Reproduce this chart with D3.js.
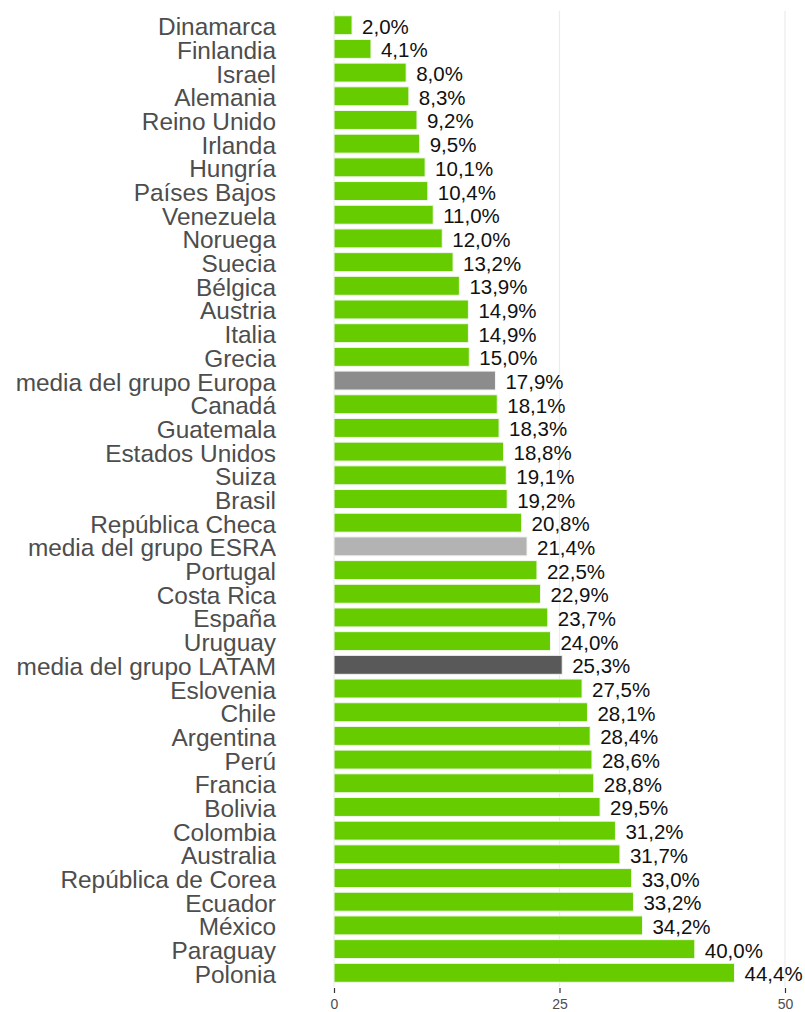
<!DOCTYPE html>
<html><head><meta charset="utf-8">
<script src="https://cdn.jsdelivr.net/npm/d3@7"></script>
<style>body{margin:0;background:#fff}svg{display:block}text{font-family:Arial,"Liberation Sans",sans-serif}</style>
</head><body>
<script>
const categories = ["Dinamarca","Finlandia","Israel","Alemania","Reino Unido","Irlanda","Hungría","Países Bajos","Venezuela","Noruega","Suecia","Bélgica","Austria","Italia","Grecia","media del grupo Europa","Canadá","Guatemala","Estados Unidos","Suiza","Brasil","República Checa","media del grupo ESRA","Portugal","Costa Rica","España","Uruguay","media del grupo LATAM","Eslovenia","Chile","Argentina","Perú","Francia","Bolivia","Colombia","Australia","República de Corea","Ecuador","México","Paraguay","Polonia"];
const values = [2.0,4.1,8.0,8.3,9.2,9.5,10.1,10.4,11.0,12.0,13.2,13.9,14.9,14.9,15.0,17.9,18.1,18.3,18.8,19.1,19.2,20.8,21.4,22.5,22.9,23.7,24.0,25.3,27.5,28.1,28.4,28.6,28.8,29.5,31.2,31.7,33.0,33.2,34.2,40.0,44.4];
const groupColors = {"media del grupo Europa":"#8c8c8c","media del grupo ESRA":"#b3b3b3","media del grupo LATAM":"#595959"};
const defaultColor = "#66cc00";
const xTicks = [0,25,50];

const W=805,H=1012;
const svg=d3.select("body").append("svg").attr("width",W).attr("height",H);
const x=d3.scaleLinear().domain([0,50]).range([334,785]);
const y=d3.scaleBand().domain(categories).range([11,987]).paddingInner(0.2).paddingOuter(0.2);
const data=categories.map((c,i)=>({c,v:values[i]}));

svg.append("g").selectAll("line").data(xTicks).join("line")
  .attr("x1",d=>x(d)).attr("x2",d=>x(d)).attr("y1",11).attr("y2",987)
  .attr("stroke","#ebebeb").attr("stroke-width",1.2);

svg.append("g").selectAll("rect").data(data).join("rect")
  .attr("x",x(0)).attr("y",d=>y(d.c)).attr("width",d=>x(d.v)-x(0)).attr("height",y.bandwidth())
  .attr("fill",d=>groupColors[d.c]||defaultColor)
  .attr("stroke","#f2f7ee").attr("stroke-width",1);

const fmt=v=>v.toFixed(1).replace(".",",")+"%";
svg.append("g").selectAll("text").data(data).join("text")
  .attr("x",d=>x(d.v)+10).attr("y",d=>y(d.c)+y.bandwidth()/2+1)
  .attr("dominant-baseline","central")
  .attr("font-size",20.5)
  .attr("fill","#111").text(d=>fmt(d.v));

svg.append("g").selectAll("text").data(data).join("text")
  .attr("x",276).attr("y",d=>y(d.c)+y.bandwidth()/2+1.5)
  .attr("dominant-baseline","central").attr("text-anchor","end")
  .attr("font-size",24.4)
  .attr("fill","#4d4d4d").text(d=>d.c);

const ax=svg.append("g").attr("transform","translate(0,988)")
  .call(d3.axisBottom(x).tickValues(xTicks).tickSize(5).tickPadding(6).tickFormat(d3.format("d")));
ax.select(".domain").remove();
ax.selectAll("line").attr("stroke","#333").attr("stroke-width",1.2);
ax.selectAll("text").attr("fill","#4d4d4d").attr("font-size",14);
</script>
</body></html>
